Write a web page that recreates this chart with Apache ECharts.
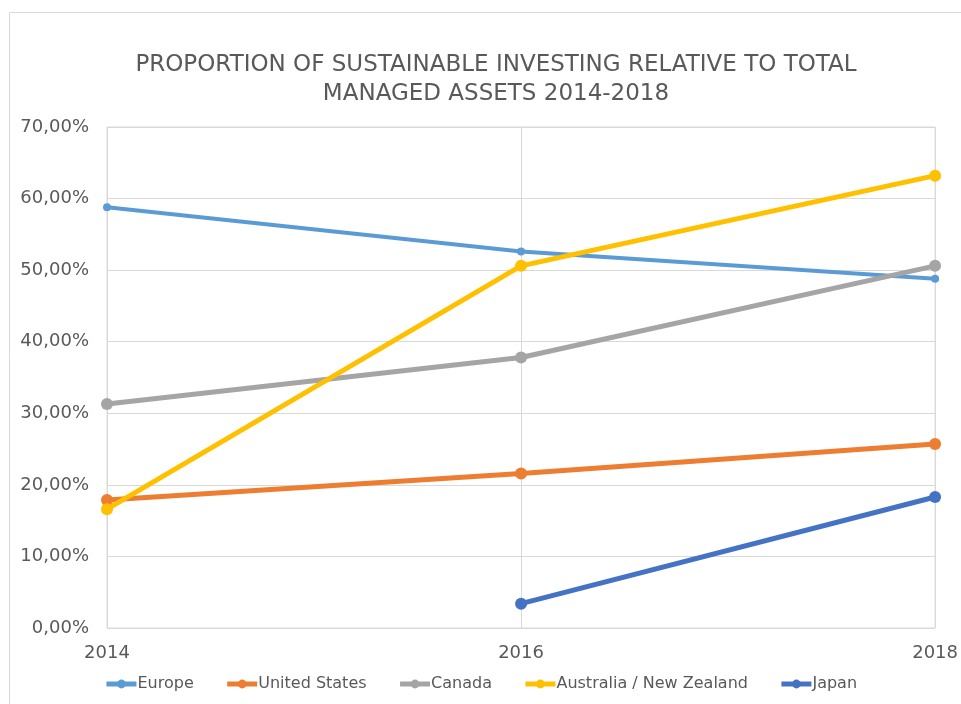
<!DOCTYPE html>
<html><head><meta charset="utf-8">
<script src="https://cdn.jsdelivr.net/npm/echarts@6/dist/echarts.min.js"></script>
<style>html,body{margin:0;padding:0;background:#fff}#c{width:961px;height:704px}</style>
</head><body><div id="c"></div>
<script>
const years = ['2014','2016','2018'];
const europe = [58.8, 52.6, 48.8];
const unitedStates = [17.9, 21.6, 25.7];
const canada = [31.3, 37.8, 50.6];
const ausNz = [16.6, 50.6, 63.2];
const japan = [null, 3.4, 18.3];
const yTicks = [0, 10, 20, 30, 40, 50, 60, 70];

const font = 'DejaVu Sans';
const chart = echarts.init(document.getElementById('c'));
function s(name, data, color, width, sym) {
  return {name, type:'line', data, symbol:'circle', symbolSize:sym,
    lineStyle:{color, width}, itemStyle:{color}, connectNulls:false, z: 2};
}
chart.setOption({
  animation:false,
  graphic:[{type:'rect', shape:{x:9.5,y:12.5,width:1000,height:800}, style:{fill:'none', stroke:'#d9d9d9', lineWidth:1}, z:-1}],
  title:{text:'PROPORTION OF SUSTAINABLE INVESTING RELATIVE TO TOTAL\nMANAGED ASSETS 2014-2018', left:491, top:46, textAlign:'center',
    textStyle:{fontFamily:font, fontWeight:'normal', fontSize:23, color:'#595959', lineHeight:29}},
  grid:{left:107, right:24, top:127, bottom:76, show:true, borderColor:'#d9d9d9', borderWidth:1},
  legend:{bottom:7, left:'center', itemWidth:30, itemHeight:11, itemGap:31,
    lineStyle:{width:5},
    textStyle:{fontFamily:font, fontSize:16, color:'#595959', padding:[0,0,0,-4]},
    data:['Europe','United States','Canada','Australia / New Zealand','Japan']},
  xAxis:{type:'category', data:years, boundaryGap:false,
    axisLine:{show:false}, axisTick:{show:false},
    axisLabel:{fontFamily:font, fontSize:18, color:'#595959', margin:16},
    splitLine:{show:true, lineStyle:{color:'#d9d9d9', width:1}}},
  yAxis:{type:'value', min:0, max:70, interval:10,
    axisLine:{show:false}, axisTick:{show:false},
    axisLabel:{fontFamily:font, fontSize:18, color:'#595959', margin:18,
      formatter:v => v.toFixed(2).replace('.', ',') + '%'},
    splitLine:{lineStyle:{color:'#d9d9d9', width:1}}},
  series:[
    s('Europe', europe, '#5B9BD5', 4, 8),
    s('United States', unitedStates, '#ED7D31', 5, 12),
    s('Canada', canada, '#A5A5A5', 5, 12),
    s('Australia / New Zealand', ausNz, '#FFC000', 5, 12),
    s('Japan', japan, '#4472C4', 5, 12)
  ]
});
</script></body></html>
